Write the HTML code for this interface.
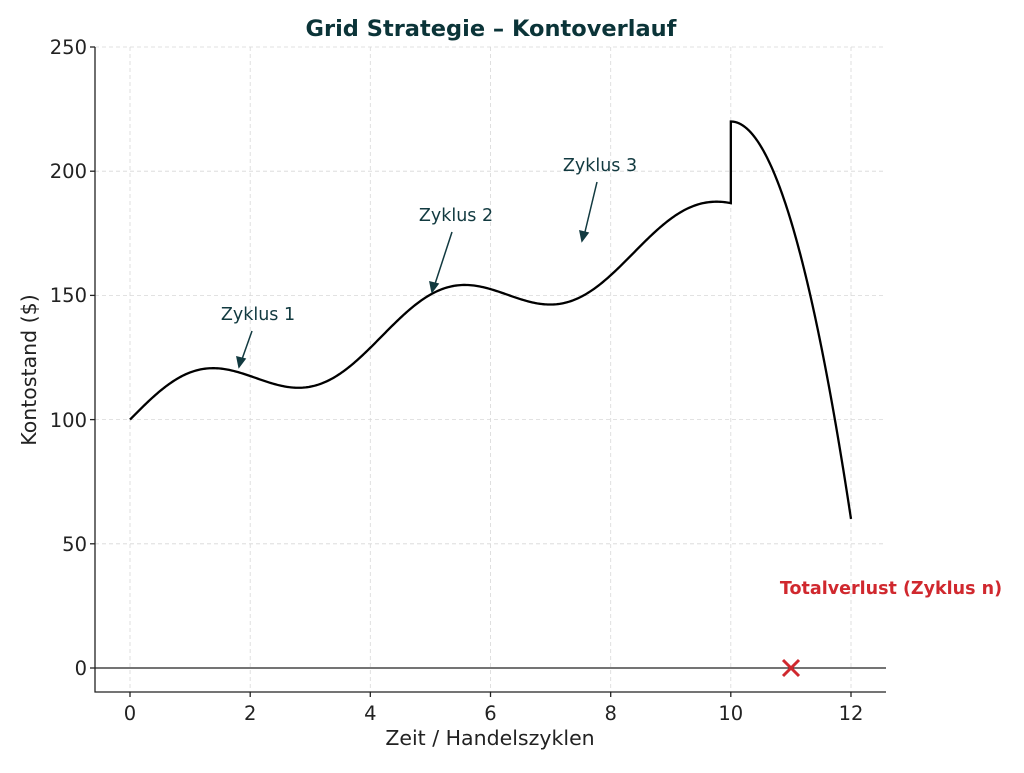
<!DOCTYPE html>
<html><head><meta charset="utf-8"><style>
html,body{margin:0;padding:0;background:#fff;}
svg text{font-family:"DejaVu Sans","Liberation Sans",sans-serif;}
</style></head><body>
<svg id="s" width="1024" height="768" viewBox="0 0 1024 768" xmlns="http://www.w3.org/2000/svg">
<rect width="1024" height="768" fill="#fff"/>
<g stroke="#d8d8d8" stroke-width="0.8" stroke-dasharray="4,3">
<line x1="130" y1="47" x2="130" y2="692"/><line x1="250.2" y1="47" x2="250.2" y2="692"/>
<line x1="370.3" y1="47" x2="370.3" y2="692"/><line x1="490.5" y1="47" x2="490.5" y2="692"/>
<line x1="610.7" y1="47" x2="610.7" y2="692"/><line x1="730.8" y1="47" x2="730.8" y2="692"/>
<line x1="851" y1="47" x2="851" y2="692"/>
<line x1="95" y1="47" x2="886" y2="47"/><line x1="95" y1="171.2" x2="886" y2="171.2"/>
<line x1="95" y1="295.4" x2="886" y2="295.4"/><line x1="95" y1="419.6" x2="886" y2="419.6"/>
<line x1="95" y1="543.8" x2="886" y2="543.8"/>
</g>
<line x1="95" y1="668" x2="886" y2="668" stroke="#222" stroke-width="1.3"/>
<path id="curve" d="" fill="none" stroke="#000" stroke-width="2.3"/>
<g stroke="#222" stroke-width="1.3">
<line x1="95" y1="47" x2="95" y2="692.5"/><line x1="94.5" y1="692" x2="886" y2="692"/>
<line x1="130" y1="692" x2="130" y2="697"/><line x1="250.2" y1="692" x2="250.2" y2="697"/>
<line x1="370.3" y1="692" x2="370.3" y2="697"/><line x1="490.5" y1="692" x2="490.5" y2="697"/>
<line x1="610.7" y1="692" x2="610.7" y2="697"/><line x1="730.8" y1="692" x2="730.8" y2="697"/>
<line x1="851" y1="692" x2="851" y2="697"/>
<line x1="90" y1="47" x2="95" y2="47"/><line x1="90" y1="171.2" x2="95" y2="171.2"/>
<line x1="90" y1="295.4" x2="95" y2="295.4"/><line x1="90" y1="419.6" x2="95" y2="419.6"/>
<line x1="90" y1="543.8" x2="95" y2="543.8"/><line x1="90" y1="668" x2="95" y2="668"/>
</g>
<g font-size="19.5" fill="#222" text-anchor="middle">
<text x="130" y="720">0</text><text x="250.2" y="720">2</text><text x="370.3" y="720">4</text>
<text x="490.5" y="720">6</text><text x="610.7" y="720">8</text><text x="730.8" y="720">10</text>
<text x="851" y="720">12</text>
</g>
<g font-size="19.5" fill="#222" text-anchor="end">
<text x="87" y="54">250</text><text x="87" y="178">200</text><text x="87" y="302">150</text>
<text x="87" y="427">100</text><text x="87" y="551">50</text><text x="87" y="675">0</text>
</g>
<text x="490" y="745" font-size="20.5" fill="#222" text-anchor="middle">Zeit / Handelszyklen</text>
<text transform="translate(36,370) rotate(-90)" font-size="20.5" fill="#222" text-anchor="middle">Kontostand ($)</text>
<text x="491" y="36" font-size="22.5" font-weight="bold" fill="#0b3438" text-anchor="middle">Grid Strategie – Kontoverlauf</text>
<g font-size="17.5" fill="#123a40" text-anchor="middle">
<text x="258" y="320">Zyklus 1</text><text x="456" y="221">Zyklus 2</text><text x="600" y="171">Zyklus 3</text>
</g>
<g stroke="#123a40" stroke-width="1.5" fill="#123a40">
<line x1="252" y1="331" x2="241" y2="362"/><path d="M239,367 L237,357 L245,359 Z"/>
<line x1="452" y1="232" x2="434" y2="287"/><path d="M432,292 L430,282 L438,284 Z"/>
<line x1="597" y1="182" x2="584" y2="236"/><path d="M582,241 L580,231 L588,233 Z"/>
</g>
<text x="891" y="594" font-size="17.5" font-weight="bold" fill="#d0282e" text-anchor="middle">Totalverlust (Zyklus n)</text>
<g stroke="#d0282e" stroke-width="3">
<line x1="783" y1="660" x2="799" y2="676"/><line x1="799" y1="660" x2="783" y2="676"/>
</g>
<script>
(function(){
function X(t){return 130+t*60.083;}
function Y(v){return 668-v*2.484;}
var d="";
for(var i=0;i<=400;i++){var t=i*10/400;var v=100+8*t+11*Math.sin(1.5*t);
d+=(i?"L":"M")+X(t).toFixed(2)+","+Y(v).toFixed(2);}
for(var i=0;i<=200;i++){var t=10+i*2/200;var v=220-40*Math.pow(t-10,2);
d+="L"+X(t).toFixed(2)+","+Y(v).toFixed(2);}
document.getElementById("curve").setAttribute("d",d);
})();
</script>
</svg>
</body></html>
